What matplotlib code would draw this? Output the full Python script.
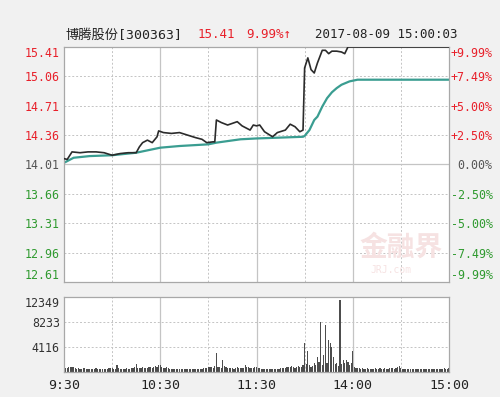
import numpy as np
import matplotlib
matplotlib.use("Agg")
import matplotlib.pyplot as plt

plt.rcParams["font.family"] = ["DejaVu Sans Mono", "Noto Sans CJK SC"]

# ---- data (minute index: 0 = 9:30, 120 = 11:30/13:00, 240 = 15:00) ----
prev_close = 14.01
price_ticks = [15.41, 15.06, 14.71, 14.36, 14.01, 13.66, 13.31, 12.96, 12.61]
pct_labels = ["+9.99%", "+7.49%", "+5.00%", "+2.50%", "0.00%",
              "-2.50%", "-5.00%", "-7.49%", "-9.99%"]
time_ticks = [0, 60, 120, 180, 240]
time_labels = ["9:30", "10:30", "11:30", "14:00", "15:00"]
vol_ticks = [4116, 8233, 12349]

price_min = [0, 2, 5, 10, 15, 20, 25, 30, 35, 40, 45, 47, 49, 52, 55, 58, 59,
             62, 67, 72, 77, 82, 86, 89, 93, 94, 95, 98, 102, 105, 108, 111,
             116, 118, 120, 122, 125, 130, 133, 138, 141, 144, 147, 149, 150,
             152, 154, 156, 158, 161, 163, 165, 167, 170, 173, 175, 177, 240]
price_val = [14.08, 14.07, 14.16, 14.15, 14.16, 14.16, 14.15, 14.12, 14.14,
             14.15, 14.15, 14.22, 14.27, 14.30, 14.27, 14.34, 14.41, 14.39,
             14.38, 14.39, 14.36, 14.33, 14.31, 14.27, 14.28, 14.28, 14.54,
             14.51, 14.48, 14.50, 14.52, 14.47, 14.42, 14.48, 14.47, 14.48,
             14.40, 14.34, 14.39, 14.42, 14.49, 14.46, 14.40, 14.42, 15.16,
             15.28, 15.14, 15.10, 15.22, 15.37, 15.37, 15.33, 15.36, 15.36,
             15.35, 15.33, 15.41, 15.41]

avg_min = [0, 6, 16, 30, 45, 60, 72, 90, 95, 110, 120, 149, 150, 153, 156,
           158, 161, 164, 167, 170, 173, 178, 183, 240]
avg_val = [14.03, 14.09, 14.11, 14.12, 14.15, 14.21, 14.23, 14.25, 14.27,
           14.31, 14.32, 14.34, 14.35, 14.42, 14.54, 14.58, 14.70, 14.80,
           14.87, 14.92, 14.96, 15.00, 15.02, 15.02]

vol_am = [900, 700, 650, 800, 750, 820, 780, 600, 500, 650,
          550, 500, 650, 600, 500, 450, 550, 500, 450, 500,
          600, 550, 500, 450, 500, 550, 450, 500, 600, 700,
          600, 550, 500, 1150, 600, 500, 450, 500, 550, 600,
          500, 550, 600, 700, 800, 1300, 650, 600, 700, 750,
          650, 700, 600, 750, 800, 700, 900, 1000, 900, 1150,
          1200, 800, 700, 650, 750, 600, 550, 500, 450, 550,
          500, 450, 500, 550, 450, 500, 450, 500, 450, 550,
          500, 450, 550, 500, 450, 500, 550, 600, 650, 700,
          800, 750, 900, 700, 1000, 3130, 900, 800, 700, 1980,
          1000, 800, 700, 650, 600, 700, 550, 600, 900, 700,
          650, 600, 700, 1100, 800, 750, 650, 600, 700, 900, 800]
vol_pm = [700, 600, 550, 500, 550, 500, 450, 500, 550, 500,
          450, 500, 550, 500, 600, 650, 600, 700, 750, 800,
          900, 1000, 800, 700, 900, 1000, 800, 900, 1100, 4780,
          1300, 3460, 1100, 900, 1000, 1500, 1200, 2470, 1600, 8230,
          1150, 2800, 7740, 1500, 5270, 4780, 4170, 2470, 1300, 1480,
          1000, 11850, 1300, 2000, 1500, 2000, 1600, 1200, 1500, 3460,
          800, 700, 600, 650, 550, 600, 500, 550, 600, 500,
          550, 500, 450, 600, 500, 550, 650, 500, 450, 600,
          550, 500, 650, 600, 700, 550, 600, 750, 1000, 600,
          550, 500, 550, 500, 450, 500, 550, 500, 450, 500,
          550, 500, 450, 500, 550, 450, 500, 450, 500, 550,
          500, 450, 500, 550, 450, 500, 600, 450, 500, 700]
volume = vol_am + vol_pm

RED, GREEN, GRAY = "#e8202a", "#2f9a2f", "#555555"
GRID, FRAME = "#c4c4c4", "#a8a8a8"
FS = 8.4


def label_color(v, ref):
    if v > ref + 1e-9:
        return RED
    if v < ref - 1e-9:
        return GREEN
    return GRAY


fig = plt.figure(figsize=(5, 3.97), dpi=100, facecolor="#f1f1f1")

# ---- price panel ----
ax = fig.add_axes([0.128, 0.2897, 0.77, 0.592])
ax.set_facecolor("white")
ax.set_xlim(0, 240)
ax.set_ylim(price_ticks[-1], price_ticks[0])
for x in range(30, 240, 30):
    solid = x % 60 == 0
    ax.axvline(x, color=GRID, lw=0.9 if solid else 0.7,
               ls="-" if solid else (0, (2, 2)), zorder=0)
for y in price_ticks[1:-1]:
    solid = abs(y - prev_close) < 1e-9
    ax.axhline(y, color=GRID, lw=0.9 if solid else 0.7,
               ls="-" if solid else (0, (2, 2)), zorder=0)
ax.plot(avg_min, avg_val, color="#3a9d91", lw=1.6, zorder=2)
ax.plot(price_min, price_val, color="#2b2b2b", lw=1.2, zorder=3)
ax.set_xticks([])
ax.set_yticks(price_ticks)
ax.set_yticklabels([f"{v:.2f}" for v in price_ticks], fontsize=FS)
ax.tick_params(length=0, pad=3)
for lab, v in zip(ax.get_yticklabels(), price_ticks):
    lab.set_color(label_color(v, prev_close))
ax.get_yticklabels()[0].set_va("top")
ax.get_yticklabels()[-1].set_va("bottom")
for s in ax.spines.values():
    s.set_color(FRAME)
    s.set_linewidth(0.9)

ax2 = ax.twinx()
ax2.set_ylim(ax.get_ylim())
ax2.set_yticks(price_ticks)
ax2.set_yticklabels(pct_labels, fontsize=FS)
ax2.tick_params(length=0, pad=31.5)
for lab, v in zip(ax2.get_yticklabels(), price_ticks):
    lab.set_color(label_color(v, prev_close))
    lab.set_ha("right")
ax2.get_yticklabels()[0].set_va("top")
ax2.get_yticklabels()[-1].set_va("bottom")
for s in ax2.spines.values():
    s.set_visible(False)

# watermark
ax.text(0.875, 0.145, "金融界", transform=ax.transAxes, ha="center",
        va="center", fontsize=20, fontweight="bold", color="#f6e2e2",
        family=["Noto Sans CJK SC"], zorder=1)
ax.text(0.85, 0.05, "JRJ.com", transform=ax.transAxes, ha="center",
        va="center", fontsize=7, color="#f6e2e2", zorder=1)

# ---- volume panel ----
axv = fig.add_axes([0.128, 0.063, 0.77, 0.1889])
axv.set_facecolor("white")
axv.set_xlim(0, 240)
axv.set_ylim(0, vol_ticks[-1])
for x in range(30, 240, 30):
    solid = x % 60 == 0
    axv.axvline(x, color=GRID, lw=0.9 if solid else 0.7,
                ls="-" if solid else (0, (2, 2)), zorder=0)
for y in vol_ticks[:-1]:
    axv.axhline(y, color=GRID, lw=0.7, ls=(0, (2, 2)), zorder=0)
axv.bar(np.arange(len(volume)), volume, width=0.75, color="#4d4d4d",
        zorder=2)
axv.set_yticks(vol_ticks)
axv.set_yticklabels([str(v) for v in vol_ticks], fontsize=FS,
                    color="#333333")
axv.get_yticklabels()[-1].set_va("top")
axv.set_xticks(time_ticks)
axv.set_xticklabels(time_labels, fontsize=9.5, color="#222222")
axv.tick_params(length=0, pad=3)
axv.tick_params(axis="x", pad=5)
for s in axv.spines.values():
    s.set_color(FRAME)
    s.set_linewidth(0.9)

# ---- header ----
fy = 1 - 35 / 397
fig.text(65 / 500, fy, "博腾股份[300363]", fontsize=9.5, color="#222222",
         va="center")
fig.text(198 / 500, fy, "15.41", fontsize=9, color=RED, va="center")
fig.text(246 / 500, fy, "9.99%↑", fontsize=9, color=RED, va="center")
fig.text(315 / 500, fy, "2017-08-09 15:00:03", fontsize=9, color="#222222",
         va="center")

fig.savefig("out.png", dpi=100, facecolor=fig.get_facecolor())
